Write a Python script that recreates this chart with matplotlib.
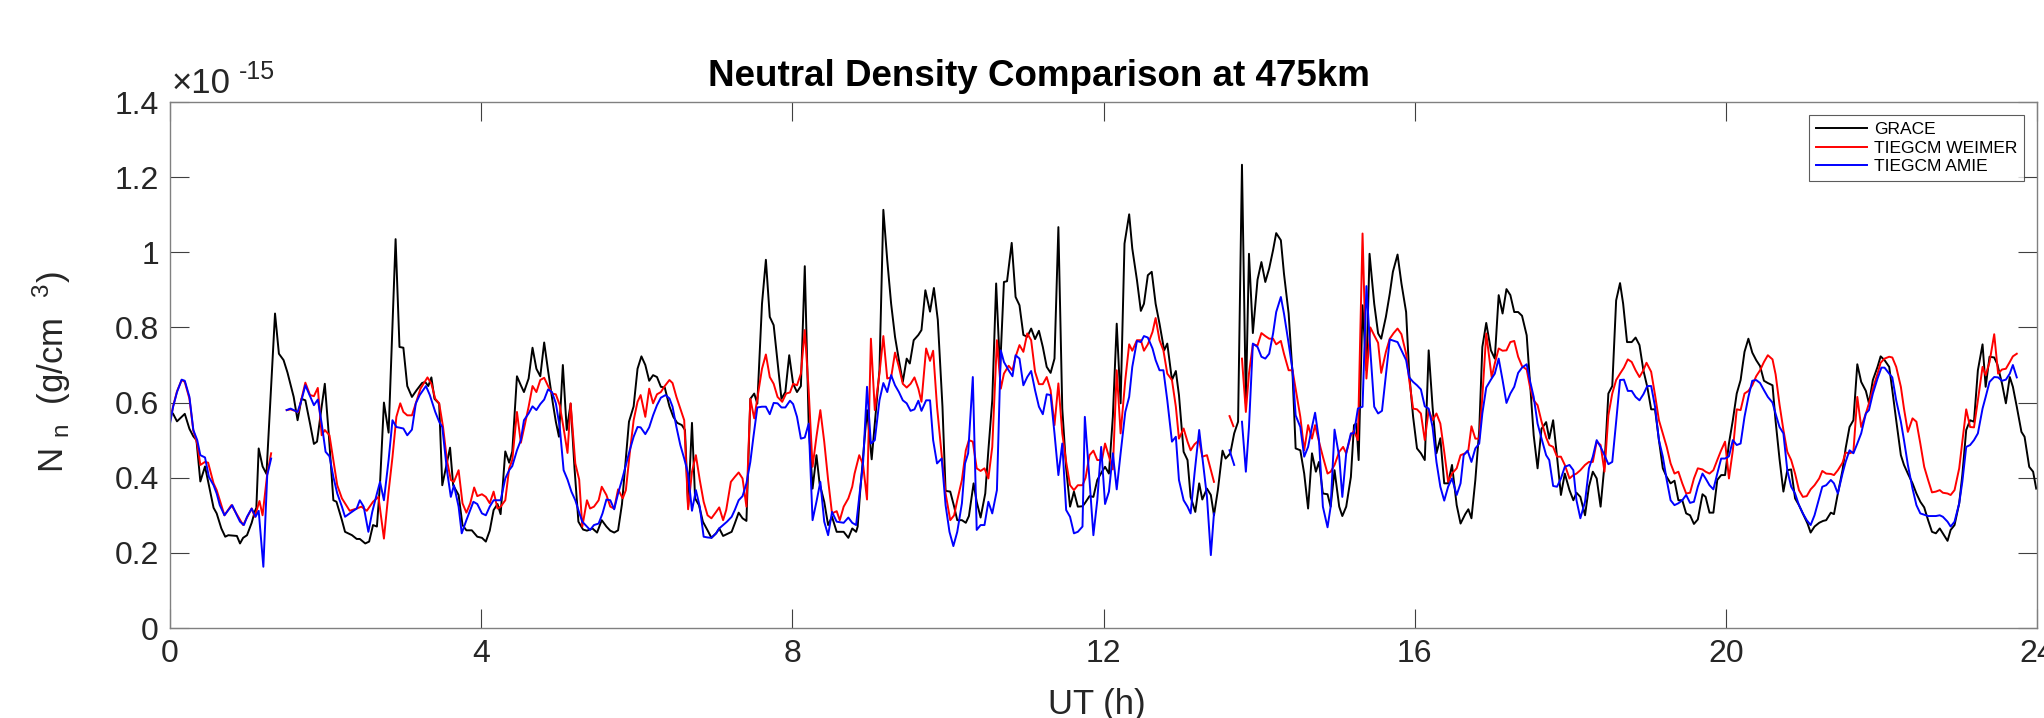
import numpy as np
import matplotlib
matplotlib.use("Agg")
import matplotlib.pyplot as plt

nan = np.nan

grace_t = [0, 0.04, 0.09, 0.19, 0.25, 0.30, 0.34, 0.39, 0.45, 0.56, 0.60, 0.66, 0.71, 0.75, 0.86, 0.90, 0.94, 0.99,
           1.05, 1.09, 1.11, 1.14, 1.19, 1.24, 1.35, 1.40, 1.46, 1.51, 1.59, 1.64, 1.69, 1.74, 1.80, 1.85, 1.89, 1.95,
           1.99, 2.04, 2.10, 2.14, 2.21, 2.25, 2.34, 2.40, 2.44, 2.51, 2.56, 2.61, 2.66, 2.70, 2.75, 2.81, 2.90, 2.95,
           3.00, 3.05, 3.11, 3.17, 3.24, 3.28, 3.32, 3.36, 3.40, 3.46, 3.50, 3.55, 3.60, 3.64, 3.71, 3.76, 3.81, 3.88,
           3.95, 4.01, 4.06, 4.11, 4.16, 4.21, 4.25, 4.31, 4.36, 4.40, 4.46, 4.51, 4.55, 4.61, 4.66, 4.71, 4.76, 4.81,
           4.86, 4.92, 4.96, 5.00, 5.05, 5.10, 5.15, 5.20, 5.25, 5.31, 5.36, 5.43, 5.49, 5.55, 5.61, 5.66, 5.71, 5.76,
           5.81, 5.86, 5.90, 5.96, 6.01, 6.06, 6.11, 6.16, 6.21, 6.26, 6.31, 6.36, 6.42, 6.47, 6.52, 6.58, 6.62, 6.66,
           6.71, 6.75, 6.80, 6.85, 6.91, 6.96, 7.02, 7.06, 7.11, 7.16, 7.22, 7.26, 7.31, 7.36, 7.41, 7.46, 7.51, 7.55,
           7.61, 7.66, 7.71, 7.76, 7.81, 7.86, 7.91, 7.96, 8.01, 8.06, 8.11, 8.16, 8.21, 8.26, 8.31, 8.35, 8.41, 8.46,
           8.51, 8.57, 8.66, 8.72, 8.77, 8.82, 8.84, 8.87, 8.96, 9.02, 9.06, 9.12, 9.17, 9.22, 9.27, 9.32, 9.37, 9.42,
           9.47, 9.51, 9.56, 9.62, 9.66, 9.71, 9.77, 9.82, 9.87, 9.93, 9.97, 10.03, 10.08, 10.12, 10.18, 10.23, 10.27,
           10.33, 10.37, 10.42, 10.48, 10.52, 10.57, 10.62, 10.67, 10.72, 10.76, 10.82, 10.87, 10.92, 10.97, 11.02,
           11.07, 11.12, 11.17, 11.22, 11.27, 11.32, 11.37, 11.42, 11.47, 11.52, 11.57, 11.62, 11.67, 11.73, 11.76,
           11.82, 11.87, 11.92, 11.98, 12.02, 12.07, 12.12, 12.17, 12.22, 12.27, 12.33, 12.37, 12.43, 12.48, 12.52,
           12.57, 12.62, 12.67, 12.72, 12.78, 12.82, 12.88, 12.93, 12.97, 13.03, 13.08, 13.12, 13.18, 13.23, 13.27,
           13.33, 13.38, 13.42, 13.47, 13.53, 13.57, 13.63, 13.68, 13.73, 13.78, 13.83, 13.87, 13.92, 13.98, 14.03,
           14.08, 14.13, 14.18, 14.22, 14.28, 14.32, 14.38, 14.43, 14.47, 14.53, 14.58, 14.63, 14.68, 14.73, 14.77,
           14.82, 14.88, 14.92, 14.97, 15.03, 15.07, 15.12, 15.18, 15.22, 15.25, 15.28, 15.33, 15.38, 15.42, 15.48,
           15.53, 15.57, 15.63, 15.68, 15.72, 15.78, 15.83, 15.89, 15.93, 15.98, 16.03, 16.08, 16.13, 16.18, 16.23,
           16.28, 16.33, 16.38, 16.43, 16.48, 16.54, 16.59, 16.65, 16.69, 16.73, 16.78, 16.83, 16.87, 16.92, 16.98,
           17.03, 17.08, 17.13, 17.18, 17.23, 17.28, 17.33, 17.38, 17.44, 17.48, 17.53, 17.58, 17.63, 17.69, 17.73,
           17.78, 17.83, 17.88, 17.93, 17.99, 18.04, 18.08, 18.13, 18.19, 18.24, 18.29, 18.34, 18.39, 18.44, 18.49,
           18.54, 18.59, 18.64, 18.68, 18.73, 18.79, 18.84, 18.89, 18.94, 18.99, 19.04, 19.09, 19.14, 19.19, 19.24,
           19.29, 19.34, 19.39, 19.44, 19.49, 19.54, 19.59, 19.64, 19.70, 19.74, 19.79, 19.84, 19.89, 19.94, 19.99,
           20.04, 20.09, 20.14, 20.19, 20.24, 20.29, 20.34, 20.39, 20.44, 20.49, 20.54, 20.60, 20.64, 20.69, 20.74,
           20.79, 20.84, 20.89, 20.94, 20.99, 21.05, 21.09, 21.14, 21.20, 21.25, 21.29, 21.35, 21.39, 21.44, 21.50,
           21.54, 21.59, 21.64, 21.69, 21.74, 21.80, 21.84, 21.89, 21.95, 21.99, 22.04, 22.10, 22.14, 22.19, 22.25,
           22.29, 22.34, 22.40, 22.45, 22.50, 22.55, 22.60, 22.65, 22.70, 22.75, 22.79, 22.85, 22.89, 22.94, 23.00,
           23.04, 23.09, 23.14, 23.19, 23.24, 23.30, 23.34, 23.39, 23.45, 23.49, 23.55, 23.60, 23.65, 23.69, 23.74,
           23.80, 23.84, 23.90, 23.95, 23.99]
grace_v = [0.58, 0.57, 0.55, 0.57, 0.53, 0.51, 0.50, 0.39, 0.43, 0.32, 0.305, 0.265, 0.243, 0.247, 0.245, 0.225, 0.24, 0.247,
           0.28, 0.31, 0.32, 0.478, 0.43, 0.41, 0.837, 0.73, 0.713, 0.68, 0.615, 0.553, 0.61, 0.606, 0.544, 0.49, 0.496, 0.59,
           0.65, 0.518, 0.34, 0.336, 0.287, 0.256, 0.247, 0.237, 0.237, 0.225, 0.23, 0.274, 0.27, 0.385, 0.60, 0.52, 1.035, 0.748,
           0.746, 0.644, 0.615, 0.633, 0.652, 0.655, 0.644, 0.667, 0.61, 0.597, 0.38, 0.43, 0.48, 0.38, 0.354, 0.274, 0.26, 0.26,
           0.243, 0.24, 0.23, 0.259, 0.314, 0.33, 0.303, 0.47, 0.44, 0.47, 0.67, 0.646, 0.628, 0.664, 0.746, 0.69, 0.67, 0.76,
           0.685, 0.60, 0.549, 0.509, 0.70, 0.527, 0.597, 0.425, 0.283, 0.262, 0.259, 0.265, 0.254, 0.287, 0.27, 0.259, 0.254, 0.26,
           0.33, 0.45, 0.549, 0.59, 0.69, 0.723, 0.70, 0.658, 0.673, 0.668, 0.642, 0.64, 0.59, 0.562, 0.546, 0.54, 0.527, 0.323,
           0.546, 0.345, 0.327, 0.283, 0.26, 0.24, 0.252, 0.265, 0.245, 0.25, 0.256, 0.278, 0.307, 0.292, 0.285, 0.61, 0.624, 0.597,
           0.863, 0.98, 0.828, 0.806, 0.708, 0.61, 0.628, 0.726, 0.65, 0.628, 0.644, 0.963, 0.544, 0.371, 0.46, 0.385, 0.336, 0.274,
           0.296, 0.256, 0.256, 0.24, 0.265, 0.256, 0.27, 0.358, 0.58, 0.449, 0.544, 0.686, 1.113, 0.979, 0.863, 0.775, 0.713, 0.655,
           0.717, 0.704, 0.766, 0.78, 0.793, 0.899, 0.842, 0.905, 0.82, 0.589, 0.365, 0.363, 0.323, 0.287, 0.287, 0.28, 0.298,
           0.385, 0.336, 0.294, 0.358, 0.473, 0.606, 0.917, 0.686, 0.921, 0.923, 1.025, 0.881, 0.859, 0.78, 0.775,
           0.797, 0.769, 0.791, 0.748, 0.695, 0.679, 0.717, 1.067, 0.584, 0.425, 0.323, 0.363, 0.323, 0.324, 0.332,
           0.351, 0.349, 0.394, 0.416, 0.429, 0.411, 0.562, 0.81, 0.598, 1.023, 1.101, 1.01, 0.926, 0.844, 0.863,
           0.939, 0.948, 0.863, 0.81, 0.739, 0.757, 0.66, 0.684, 0.62, 0.469, 0.447, 0.349, 0.309, 0.385, 0.342,
           0.371, 0.354, 0.30, 0.367, 0.472, 0.451, 0.465, 0.518, 0.549, 1.233, 0.598, 0.996, 0.785, 0.927, 0.974,
           0.921, 0.957, 1.006, 1.051, 1.032, 0.943, 0.837, 0.677, 0.478, 0.473, 0.411, 0.318, 0.465, 0.416, 0.442,
           0.358, 0.356, 0.323, 0.42, 0.323, 0.298, 0.323, 0.402, 0.54, 0.544, 0.447, 0.859, 0.686, 0.996, 0.863,
           0.784, 0.77, 0.828, 0.89, 0.948, 0.994, 0.917, 0.841, 0.677, 0.562, 0.478, 0.465, 0.447, 0.739, 0.589,
           0.465, 0.505, 0.385, 0.385, 0.434, 0.327, 0.278, 0.303, 0.316, 0.292, 0.394, 0.527, 0.748, 0.812, 0.739,
           0.717, 0.886, 0.837, 0.902, 0.886, 0.841, 0.841, 0.831, 0.779, 0.66, 0.513, 0.425, 0.53, 0.548, 0.504,
           0.553, 0.456, 0.354, 0.411, 0.367, 0.34, 0.36, 0.349, 0.30, 0.376, 0.416, 0.398, 0.323, 0.434, 0.624,
           0.644, 0.872, 0.918, 0.863, 0.761, 0.761, 0.773, 0.753, 0.686, 0.642, 0.582, 0.582, 0.50, 0.425, 0.402,
           0.385, 0.392, 0.34, 0.34, 0.305, 0.30, 0.277, 0.289, 0.356, 0.349, 0.307, 0.307, 0.394, 0.407, 0.407,
           0.491, 0.553, 0.624, 0.66, 0.735, 0.77, 0.733, 0.713, 0.697, 0.658, 0.652, 0.646, 0.55, 0.45, 0.363,
           0.42, 0.422, 0.345, 0.327, 0.305, 0.278, 0.254, 0.27, 0.28, 0.285, 0.287, 0.307, 0.303, 0.358, 0.42,
           0.478, 0.535, 0.553, 0.702, 0.655, 0.631, 0.598, 0.66, 0.695, 0.723, 0.713, 0.695, 0.633, 0.553, 0.46,
           0.434, 0.411, 0.385, 0.358, 0.336, 0.321, 0.287, 0.256, 0.252, 0.265, 0.252, 0.232, 0.261, 0.274, 0.332,
           0.407, 0.527, 0.553, 0.549, 0.686, 0.755, 0.642, 0.722, 0.72, 0.702, 0.651, 0.598, 0.668, 0.642, 0.589,
           0.522, 0.509, 0.429, 0.416, 0.371]

weimer_t = [0, 0.04, 0.09, 0.15, 0.19, 0.25, 0.30, 0.35, 0.39, 0.45, 0.49, 0.56, 0.60, 0.70, 0.79, 0.94, 1.05, 1.09, 1.15,
            1.19, 1.25, 1.30, 1.40, 1.50, 1.55, 1.65, 1.69, 1.74, 1.80, 1.85, 1.90, 1.95, 1.99, 2.05, 2.10, 2.15, 2.21,
            2.31, 2.40, 2.46, 2.53, 2.61, 2.68, 2.75, 2.81, 2.86, 2.91, 2.96, 3.00, 3.05, 3.11, 3.16, 3.22, 3.31, 3.36,
            3.41, 3.46, 3.51, 3.56, 3.61, 3.65, 3.71, 3.76, 3.81, 3.86, 3.91, 3.95, 4.01, 4.06, 4.11, 4.16, 4.21, 4.25,
            4.31, 4.36, 4.40, 4.46, 4.51, 4.56, 4.61, 4.66, 4.71, 4.76, 4.81, 4.86, 4.91, 4.96, 5.01, 5.06, 5.11, 5.15,
            5.21, 5.26, 5.30, 5.36, 5.40, 5.45, 5.51, 5.55, 5.61, 5.66, 5.71, 5.76, 5.82, 5.86, 5.91, 5.96, 6.01, 6.05,
            6.11, 6.16, 6.21, 6.26, 6.31, 6.36, 6.42, 6.46, 6.51, 6.56, 6.61, 6.66, 6.71, 6.76, 6.81, 6.86, 6.91, 6.96,
            7.02, 7.06, 7.11, 7.15, 7.21, 7.26, 7.31, 7.36, 7.41, 7.46, 7.51, 7.56, 7.61, 7.66, 7.71, 7.76, 7.81, 7.87,
            7.92, 7.97, 8.01, 8.06, 8.11, 8.16, 8.21, 8.26, 8.31, 8.36, 8.41, 8.46, 8.51, 8.57, 8.61, 8.66, 8.72, 8.77,
            8.80, 8.86, 8.91, 8.96, 9.01, 9.06, 9.12, 9.17, 9.22, 9.27, 9.32, 9.37, 9.42, 9.47, 9.52, 9.57, 9.62, 9.66,
            9.72, 9.77, 9.81, 9.86, 9.92, 9.97, 10.03, 10.08, 10.12, 10.18, 10.23, 10.27, 10.32, 10.37, 10.42, 10.47,
            10.52, 10.57, 10.63, 10.68, 10.72, 10.78, 10.83, 10.87, 10.92, 10.97, 11.02, 11.07, 11.12, 11.17, 11.22,
            11.27, 11.32, 11.37, 11.42, 11.47, 11.52, 11.57, 11.62, 11.67, 11.73, 11.77, 11.82, 11.87, 11.92, 11.98,
            12.02, 12.07, 12.12, 12.17, 12.22, 12.28, 12.33, 12.37, 12.43, 12.48, 12.52, 12.57, 12.63, 12.67, 12.72,
            12.77, 12.82, 12.88, 12.93, 12.97, 13.03, 13.08, 13.12, 13.17, 13.23, 13.27, 13.33, 13.38, 13.42, 13.52,
            13.62, 13.67, 13.72, 13.78, 13.83, 13.87, 13.92, 13.98, 14.03, 14.08, 14.13, 14.18, 14.22, 14.28, 14.32,
            14.38, 14.43, 14.47, 14.53, 14.58, 14.63, 14.68, 14.72, 14.77, 14.82, 14.88, 14.92, 14.97, 15.03, 15.08,
            15.12, 15.18, 15.22, 15.27, 15.33, 15.38, 15.43, 15.48, 15.53, 15.57, 15.63, 15.68, 15.73, 15.78, 15.83,
            15.89, 15.93, 15.98, 16.03, 16.08, 16.13, 16.18, 16.23, 16.28, 16.33, 16.38, 16.43, 16.48, 16.54, 16.59,
            16.65, 16.69, 16.73, 16.78, 16.83, 16.87, 16.92, 16.99, 17.03, 17.08, 17.13, 17.18, 17.23, 17.28, 17.33,
            17.38, 17.44, 17.48, 17.53, 17.58, 17.63, 17.69, 17.73, 17.78, 17.83, 17.88, 17.93, 17.99, 18.04, 18.08,
            18.13, 18.19, 18.24, 18.29, 18.34, 18.39, 18.44, 18.49, 18.54, 18.59, 18.64, 18.69, 18.74, 18.79, 18.84,
            18.89, 18.94, 18.98, 19.04, 19.09, 19.14, 19.19, 19.24, 19.29, 19.34, 19.39, 19.44, 19.49, 19.54, 19.59,
            19.64, 19.70, 19.74, 19.79, 19.84, 19.89, 19.94, 19.99, 20.04, 20.09, 20.14, 20.19, 20.24, 20.29, 20.34,
            20.39, 20.44, 20.49, 20.54, 20.60, 20.64, 20.69, 20.74, 20.79, 20.84, 20.89, 20.94, 20.99, 21.04, 21.09,
            21.14, 21.20, 21.24, 21.29, 21.35, 21.39, 21.44, 21.50, 21.54, 21.59, 21.64, 21.69, 21.74, 21.80, 21.84,
            21.89, 21.95, 21.99, 22.04, 22.10, 22.14, 22.19, 22.25, 22.29, 22.34, 22.40, 22.45, 22.50, 22.55, 22.60,
            22.65, 22.70, 22.75, 22.79, 22.85, 22.89, 22.94, 23.00, 23.04, 23.09, 23.14, 23.19, 23.24, 23.30, 23.34,
            23.39, 23.45, 23.50, 23.55, 23.60, 23.65, 23.69, 23.74]
weimer_v = [0.55, 0.59, 0.63, 0.66, 0.655, 0.61, 0.525, 0.49, 0.434, 0.442, 0.44, 0.385, 0.367, 0.30, 0.327, 0.274, 0.318, 0.296, 0.338,
            0.30, 0.41, 0.465, nan, 0.58, 0.582, 0.575, 0.61, 0.653, 0.62, 0.617, 0.639, 0.513, 0.527, 0.513, 0.447, 0.38, 0.345,
            0.312, 0.318, 0.323, 0.312, 0.336, 0.349, 0.238, 0.363, 0.455, 0.562, 0.598, 0.575, 0.566, 0.566, 0.598, 0.637, 0.667, 0.65,
            0.61, 0.598, 0.535, 0.447, 0.394, 0.389, 0.42, 0.332, 0.307, 0.332, 0.374, 0.351, 0.356, 0.349, 0.332, 0.363, 0.318, 0.323,
            0.34, 0.425, 0.447, 0.575, 0.493, 0.54, 0.589, 0.644, 0.628, 0.66, 0.666, 0.644, 0.624, 0.622, 0.593, 0.531, 0.466, 0.598,
            0.438, 0.395, 0.27, 0.34, 0.318, 0.323, 0.34, 0.376, 0.354, 0.323, 0.318, 0.369, 0.345, 0.367, 0.465, 0.553, 0.602, 0.62,
            0.562, 0.637, 0.598, 0.622, 0.628, 0.644, 0.66, 0.652, 0.615, 0.584, 0.553, 0.316, 0.416, 0.46, 0.394, 0.336, 0.30, 0.292,
            0.309, 0.321, 0.287, 0.314, 0.389, 0.402, 0.414, 0.398, 0.323, 0.61, 0.558, 0.624, 0.69, 0.728, 0.668, 0.65, 0.615, 0.602,
            0.624, 0.627, 0.65, 0.646, 0.677, 0.793, 0.633, 0.429, 0.509, 0.58, 0.496, 0.394, 0.305, 0.311, 0.287, 0.323, 0.345, 0.376,
            0.411, 0.46, 0.434, 0.342, 0.77, 0.58, 0.677, 0.777, 0.664, 0.667, 0.733, 0.695, 0.65, 0.64, 0.65, 0.667, 0.637, 0.602,
            0.744, 0.711, 0.738, 0.589, 0.46, 0.358, 0.287, 0.30, 0.34, 0.394, 0.473, 0.50, 0.496, 0.425, 0.418, 0.425,
            0.398, 0.482, 0.766, 0.637, 0.677, 0.698, 0.686, 0.722, 0.753, 0.735, 0.784, 0.766, 0.682, 0.649, 0.649,
            0.668, 0.633, 0.54, 0.651, 0.518, 0.442, 0.38, 0.367, 0.38, 0.38, 0.40, 0.46, 0.472, 0.447, 0.447,
            0.491, 0.457, 0.422, 0.686, 0.518, 0.66, 0.755, 0.738, 0.766, 0.766, 0.738, 0.755, 0.788, 0.825, 0.766,
            0.739, 0.677, 0.66, 0.589, 0.504, 0.531, 0.496, 0.473, 0.489, 0.50, 0.456, 0.46, 0.42, 0.389, nan,
            0.564, 0.537, nan, 0.717, 0.575, 0.677, 0.755, 0.752, 0.785, 0.777, 0.77, 0.77, 0.755, 0.764, 0.73,
            0.686, 0.686, 0.637, 0.562, 0.473, 0.54, 0.504, 0.54, 0.496, 0.456, 0.411, 0.416, 0.434, 0.469, 0.482,
            0.465, 0.513, 0.525, 0.50, 1.05, 0.664, 0.80, 0.779, 0.759, 0.679, 0.735, 0.77, 0.785, 0.797, 0.782,
            0.73, 0.66, 0.584, 0.582, 0.571, 0.50, 0.58, 0.553, 0.571, 0.544, 0.469, 0.389, 0.411, 0.425, 0.46,
            0.465, 0.473, 0.537, 0.504, 0.504, 0.615, 0.784, 0.667, 0.704, 0.744, 0.738, 0.739, 0.761, 0.764, 0.722,
            0.697, 0.688, 0.644, 0.606, 0.593, 0.55, 0.507, 0.487, 0.482, 0.456, 0.456, 0.434, 0.398, 0.407, 0.411,
            0.42, 0.434, 0.442, 0.442, 0.496, 0.487, 0.416, 0.566, 0.624, 0.66, 0.677, 0.693, 0.715, 0.708, 0.686,
            0.668, 0.686, 0.706, 0.682, 0.62, 0.553, 0.518, 0.482, 0.438, 0.411, 0.416, 0.385, 0.358, 0.36, 0.398,
            0.425, 0.422, 0.416, 0.411, 0.42, 0.447, 0.473, 0.496, 0.398, 0.473, 0.582, 0.58, 0.624, 0.631, 0.646,
            0.67, 0.686, 0.708, 0.726, 0.715, 0.675, 0.595, 0.527, 0.469, 0.447, 0.411, 0.367, 0.349, 0.351, 0.369,
            0.38, 0.398, 0.418, 0.411, 0.41, 0.407, 0.42, 0.44, 0.467, 0.465, 0.469, 0.615, 0.535, 0.571, 0.598,
            0.637, 0.677, 0.706, 0.717, 0.722, 0.72, 0.695, 0.642, 0.584, 0.522, 0.558, 0.549, 0.491, 0.429, 0.394,
            0.361, 0.363, 0.367, 0.36, 0.358, 0.354, 0.367, 0.425, 0.496, 0.582, 0.535, 0.534, 0.606, 0.695, 0.673,
            0.708, 0.782, 0.677, 0.688, 0.69, 0.708, 0.723, 0.73]

amie_t = [0, 0.04, 0.09, 0.15, 0.19, 0.25, 0.30, 0.35, 0.39, 0.45, 0.50, 0.56, 0.60, 0.64, 0.70, 0.75, 0.80, 0.86, 0.90, 0.95,
          0.99, 1.05, 1.10, 1.14, 1.20, 1.25, 1.30, 1.40, 1.50, 1.55, 1.64, 1.69, 1.74, 1.80, 1.85, 1.90, 1.95, 2.00, 2.05,
          2.10, 2.15, 2.21, 2.25, 2.31, 2.40, 2.44, 2.49, 2.55, 2.60, 2.66, 2.70, 2.75, 2.81, 2.86, 2.91, 3.00, 3.05, 3.11,
          3.16, 3.21, 3.29, 3.34, 3.41, 3.46, 3.50, 3.56, 3.61, 3.65, 3.71, 3.75, 3.81, 3.90, 3.95, 4.01, 4.06, 4.11, 4.16,
          4.25, 4.31, 4.36, 4.40, 4.46, 4.51, 4.55, 4.61, 4.66, 4.71, 4.76, 4.81, 4.86, 4.91, 4.96, 5.01, 5.06, 5.11, 5.16,
          5.21, 5.26, 5.30, 5.36, 5.40, 5.45, 5.51, 5.56, 5.61, 5.66, 5.71, 5.76, 5.81, 5.86, 5.91, 5.96, 6.01, 6.05, 6.11,
          6.16, 6.21, 6.26, 6.31, 6.37, 6.42, 6.46, 6.51, 6.56, 6.61, 6.66, 6.71, 6.76, 6.81, 6.86, 6.91, 6.96, 7.02, 7.06,
          7.11, 7.16, 7.22, 7.26, 7.31, 7.36, 7.41, 7.46, 7.50, 7.55, 7.61, 7.66, 7.71, 7.76, 7.81, 7.86, 7.91, 7.97, 8.01,
          8.06, 8.11, 8.16, 8.21, 8.26, 8.31, 8.36, 8.41, 8.46, 8.51, 8.57, 8.66, 8.72, 8.77, 8.82, 8.87, 8.91, 8.96, 9.01,
          9.06, 9.12, 9.17, 9.22, 9.27, 9.32, 9.37, 9.42, 9.47, 9.52, 9.57, 9.62, 9.66, 9.72, 9.77, 9.81, 9.86, 9.92, 9.97,
          10.02, 10.07, 10.12, 10.18, 10.22, 10.26, 10.32, 10.37, 10.42, 10.47, 10.52, 10.57, 10.63, 10.68, 10.72, 10.78,
          10.83, 10.87, 10.92, 10.97, 11.02, 11.07, 11.12, 11.17, 11.22, 11.27, 11.32, 11.37, 11.42, 11.47, 11.52, 11.57,
          11.62, 11.67, 11.73, 11.76, 11.82, 11.87, 11.92, 11.97, 12.02, 12.07, 12.12, 12.17, 12.22, 12.28, 12.33, 12.37,
          12.43, 12.48, 12.52, 12.57, 12.63, 12.67, 12.72, 12.77, 12.82, 12.88, 12.93, 12.97, 13.03, 13.08, 13.12, 13.17,
          13.23, 13.27, 13.33, 13.38, 13.42, 13.52, 13.62, 13.68, 13.73, 13.78, 13.83, 13.87, 13.92, 13.98, 14.03, 14.08,
          14.13, 14.18, 14.22, 14.28, 14.32, 14.38, 14.43, 14.47, 14.53, 14.58, 14.63, 14.68, 14.72, 14.77, 14.82, 14.88,
          14.92, 14.97, 15.03, 15.07, 15.12, 15.18, 15.22, 15.27, 15.33, 15.38, 15.43, 15.48, 15.53, 15.58, 15.68, 15.78,
          15.83, 15.89, 15.93, 15.98, 16.03, 16.08, 16.13, 16.18, 16.23, 16.28, 16.33, 16.38, 16.43, 16.48, 16.54, 16.59,
          16.63, 16.68, 16.73, 16.78, 16.83, 16.87, 16.92, 16.98, 17.03, 17.08, 17.13, 17.18, 17.23, 17.28, 17.33, 17.38,
          17.44, 17.48, 17.53, 17.58, 17.63, 17.69, 17.73, 17.78, 17.83, 17.88, 17.93, 17.99, 18.04, 18.08, 18.13, 18.19,
          18.24, 18.29, 18.34, 18.39, 18.44, 18.49, 18.54, 18.59, 18.64, 18.69, 18.74, 18.79, 18.84, 18.89, 18.94, 18.99,
          19.04, 19.09, 19.14, 19.19, 19.24, 19.29, 19.34, 19.39, 19.44, 19.49, 19.54, 19.59, 19.64, 19.70, 19.74, 19.79,
          19.84, 19.89, 19.94, 19.99, 20.04, 20.09, 20.14, 20.19, 20.24, 20.29, 20.34, 20.39, 20.44, 20.49, 20.54, 20.60,
          20.64, 20.69, 20.74, 20.79, 20.84, 20.89, 20.94, 20.99, 21.04, 21.09, 21.14, 21.20, 21.24, 21.29, 21.35, 21.39,
          21.44, 21.50, 21.54, 21.59, 21.64, 21.69, 21.74, 21.80, 21.84, 21.89, 21.95, 22.00, 22.04, 22.10, 22.14, 22.19,
          22.25, 22.29, 22.34, 22.40, 22.45, 22.50, 22.60, 22.65, 22.70, 22.75, 22.79, 22.85, 22.89, 22.94, 23.00, 23.04,
          23.09, 23.14, 23.19, 23.24, 23.30, 23.34, 23.39, 23.45, 23.50, 23.55, 23.60, 23.65, 23.69, 23.74]
amie_v = [0.544, 0.589, 0.628, 0.661, 0.658, 0.615, 0.527, 0.50, 0.46, 0.454, 0.402, 0.38, 0.358, 0.327, 0.30, 0.314, 0.327, 0.30, 0.283, 0.274,
          0.296, 0.318, 0.296, 0.312, 0.163, 0.407, 0.451, nan, 0.58, 0.584, 0.575, 0.606, 0.646, 0.617, 0.593, 0.608, 0.544, 0.469, 0.457,
          0.402, 0.358, 0.323, 0.296, 0.305, 0.318, 0.34, 0.323, 0.256, 0.309, 0.358, 0.389, 0.34, 0.447, 0.553, 0.535, 0.531, 0.513, 0.528,
          0.598, 0.62, 0.644, 0.62, 0.575, 0.549, 0.535, 0.42, 0.349, 0.38, 0.323, 0.252, 0.287, 0.336, 0.33, 0.305, 0.30, 0.323, 0.34,
          0.34, 0.398, 0.42, 0.431, 0.473, 0.50, 0.553, 0.571, 0.59, 0.58, 0.596, 0.608, 0.635, 0.628, 0.598, 0.535, 0.42, 0.395, 0.363,
          0.34, 0.307, 0.283, 0.27, 0.261, 0.274, 0.278, 0.305, 0.342, 0.34, 0.316, 0.358, 0.394, 0.434, 0.473, 0.509, 0.535, 0.534, 0.516,
          0.534, 0.566, 0.593, 0.613, 0.62, 0.611, 0.589, 0.535, 0.487, 0.451, 0.411, 0.312, 0.367, 0.323, 0.243, 0.241, 0.24, 0.252, 0.265,
          0.274, 0.283, 0.296, 0.314, 0.34, 0.351, 0.385, 0.442, 0.509, 0.587, 0.589, 0.589, 0.569, 0.599, 0.598, 0.587, 0.587, 0.605, 0.596,
          0.562, 0.504, 0.507, 0.544, 0.287, 0.336, 0.389, 0.283, 0.247, 0.309, 0.283, 0.28, 0.294, 0.28, 0.274, 0.367, 0.442, 0.642, 0.491,
          0.50, 0.606, 0.652, 0.628, 0.673, 0.646, 0.628, 0.606, 0.598, 0.578, 0.582, 0.605, 0.578, 0.606, 0.606, 0.50, 0.438, 0.451, 0.327,
          0.256, 0.218, 0.256, 0.332, 0.438, 0.465, 0.668, 0.261, 0.274, 0.274, 0.336, 0.305, 0.367, 0.739, 0.708, 0.686,
          0.67, 0.726, 0.717, 0.646, 0.668, 0.684, 0.633, 0.589, 0.569, 0.622, 0.62, 0.518, 0.407, 0.491, 0.314, 0.296,
          0.252, 0.256, 0.27, 0.562, 0.394, 0.247, 0.34, 0.482, 0.33, 0.363, 0.465, 0.369, 0.465, 0.575, 0.615, 0.695,
          0.764, 0.761, 0.777, 0.773, 0.744, 0.713, 0.686, 0.686, 0.606, 0.496, 0.509, 0.394, 0.34, 0.323, 0.305, 0.411,
          0.527, 0.456, 0.349, 0.194, 0.305, nan, 0.473, 0.434, nan, 0.549, 0.416, 0.535, 0.757, 0.748, 0.722, 0.717,
          0.73, 0.784, 0.841, 0.881, 0.837, 0.757, 0.686, 0.566, 0.535, 0.456, 0.482, 0.535, 0.573, 0.50, 0.323, 0.268,
          0.323, 0.528, 0.456, 0.349, 0.465, 0.518, 0.518, 0.584, 0.589, 0.91, 0.739, 0.589, 0.571, 0.578, 0.768, 0.761,
          0.739, 0.713, 0.667, 0.655, 0.646, 0.635, 0.59, 0.584, 0.535, 0.442, 0.376, 0.339, 0.376, 0.398, 0.354, 0.385,
          0.46, 0.472, 0.442, 0.478, 0.491, 0.571, 0.64, 0.661, 0.677, 0.717, 0.66, 0.599, 0.624, 0.642, 0.679, 0.693,
          0.702, 0.66, 0.615, 0.544, 0.505, 0.46, 0.447, 0.378, 0.376, 0.398, 0.429, 0.434, 0.42, 0.34, 0.292, 0.336,
          0.425, 0.456, 0.50, 0.482, 0.46, 0.436, 0.442, 0.549, 0.66, 0.661, 0.631, 0.631, 0.615, 0.606, 0.622, 0.644,
          0.644, 0.589, 0.50, 0.456, 0.394, 0.34, 0.327, 0.332, 0.34, 0.354, 0.333, 0.336, 0.376, 0.411, 0.398, 0.38,
          0.369, 0.411, 0.451, 0.451, 0.457, 0.50, 0.487, 0.491, 0.562, 0.615, 0.658, 0.66, 0.652, 0.633, 0.615, 0.60,
          0.57, 0.535, 0.518, 0.42, 0.376, 0.358, 0.327, 0.305, 0.287, 0.274, 0.30, 0.345, 0.376, 0.38, 0.394, 0.385,
          0.358, 0.411, 0.442, 0.473, 0.465, 0.491, 0.518, 0.571, 0.58, 0.624, 0.664, 0.693, 0.693, 0.677, 0.667, 0.606,
          0.549, 0.50, 0.434, 0.371, 0.327, 0.305, 0.298, 0.298, 0.298, 0.30, 0.296, 0.283, 0.27, 0.283, 0.332, 0.389,
          0.482, 0.487, 0.50, 0.518, 0.584, 0.615, 0.655, 0.668, 0.667, 0.658, 0.661, 0.677, 0.70, 0.667]

x_ticks = [0, 4, 8, 12, 16, 20, 24]
y_ticks = [0, 0.2, 0.4, 0.6, 0.8, 1.0, 1.2, 1.4]
y_tick_labels = ["0", "0.2", "0.4", "0.6", "0.8", "1", "1.2", "1.4"]
series_labels = ["GRACE", "TIEGCM WEIMER", "TIEGCM AMIE"]

plt.rcParams['font.family'] = ['Liberation Sans', 'DejaVu Sans']
txt = '#262626'

fig = plt.figure(figsize=(20.44, 7.18), dpi=100)
ax = fig.add_axes([170/2044, 1 - 628/718, 1867/2044, 526/718])

ax.plot(grace_t, grace_v, color='black', lw=1.4, label=series_labels[0])
ax.plot(weimer_t, weimer_v, color='red', lw=1.4, label=series_labels[1])
ax.plot(amie_t, amie_v, color='blue', lw=1.4, label=series_labels[2])

ax.set_xlim(0, 24)
ax.set_ylim(0, 1.4)
ax.set_xticks(x_ticks)
ax.set_xticklabels([str(v) for v in x_ticks])
ax.set_yticks(y_ticks)
ax.set_yticklabels(y_tick_labels)
ax.tick_params(direction='in', length=13.5, width=0.8, color='#404040', labelcolor=txt,
               labelsize=23, top=True, right=True, pad=8)
for s in ax.spines.values():
    s.set_color('#808080')
    s.set_linewidth(1.0)

leg = ax.legend(loc='upper right', fontsize=12.5, frameon=True, fancybox=False,
                edgecolor='#333333', handlelength=2.9, handletextpad=0.4,
                borderpad=0.4, labelspacing=0.2, borderaxespad=0.75)
leg.get_frame().set_linewidth(0.8)

fig.text(1039/2044, 1 - 76/718, "Neutral Density Comparison at 475km", ha='center', va='center',
         fontsize=26.5, fontweight='bold', color='black')
fig.text(172/2044, 1 - 93/718, "\u00d710", ha='left', va='baseline', fontsize=25, color=txt)
fig.text(239/2044, 1 - 79/718, "-15", ha='left', va='baseline', fontsize=18, color=txt)
fig.text(1097/2044, 1 - 688/718, "UT (h)", ha='center', va='top', fontsize=25, color=txt)
fig.text(52/2044, 1 - 372/718, r"N $_\mathregular{n}$  (g/cm  $^{\mathregular{3}}$)", ha='center', va='center',
         rotation=90, fontsize=25, color=txt)

fig.savefig("out.png", dpi=100)
